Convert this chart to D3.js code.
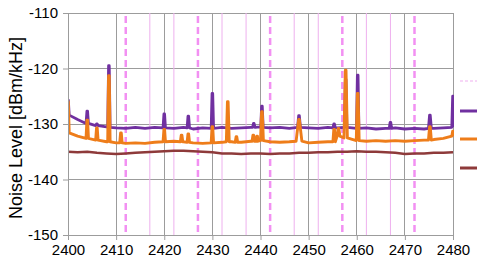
<!DOCTYPE html>
<html><head><meta charset="utf-8">
<script src="https://cdn.jsdelivr.net/npm/d3@7"></script>
<style>
html,body{margin:0;padding:0;background:#fff;overflow:hidden}
svg{display:block;font-family:"Liberation Sans",Arial,sans-serif}
</style></head>
<body>
<script>
// ---- data ----
const xTicks = [2400,2410,2420,2430,2440,2450,2460,2470,2480];
const yTicks = [-150,-140,-130,-120,-110];
const channelCenters = [2412,2427,2442,2457,2472];
const channelEdges = [2417,2422,2432,2437,2447,2452,2462,2467];

const freqs = [2400,2402,2404,2406,2408,2410,2412,2414,2416,2418,2420,2422,2424,2426,2428,2430,2432,2434,2436,2438,2440,2442,2444,2446,2448,2450,2452,2454,2456,2458,2460,2462,2464,2466,2468,2470,2472,2474,2476,2478,2480];

const purpleBase = [-128.4,-129.2,-129.9,-130.3,-130.5,-130.7,-130.8,-130.6,-130.8,-130.6,-130.7,-130.8,-130.6,-130.9,-130.7,-130.8,-130.6,-130.8,-130.7,-130.6,-130.5,-130.7,-130.6,-130.8,-130.6,-130.7,-130.8,-130.6,-130.7,-130.6,-130.8,-130.7,-130.9,-130.8,-130.7,-130.9,-130.8,-130.9,-130.8,-130.7,-130.5];
const orangeBase = [-131.6,-132.2,-132.6,-132.9,-133.2,-133.4,-133.5,-133.4,-133.5,-133.3,-133.2,-133.1,-133.2,-133.4,-133.5,-133.4,-133.3,-133.2,-133.3,-133.1,-133.0,-133.2,-133.3,-133.2,-133.1,-133.4,-133.3,-133.2,-132.0,-132.9,-133.0,-133.1,-133.0,-133.1,-133.0,-133.1,-133.0,-132.9,-132.8,-132.6,-132.2];
const redBase = [-135.0,-135.1,-135.0,-135.2,-135.3,-135.4,-135.3,-135.2,-135.1,-135.0,-134.9,-134.8,-134.8,-134.9,-135.0,-135.1,-135.3,-135.3,-135.4,-135.3,-135.3,-135.4,-135.3,-135.3,-135.2,-135.2,-135.1,-135.1,-135.0,-135.0,-134.9,-135.0,-135.0,-135.1,-135.2,-135.4,-135.3,-135.3,-135.2,-135.2,-135.1];

// spikes: [freq, peak, foot, halfWidth]
const purpleSpikes = [
  [2400.0,-125.7,-128.4,0.25],[2404.0,-127.7,-129.9,0.25],[2406.0,-130.0,-130.3,0.25],
  [2408.5,-119.5,-130.6,0.25],[2420.0,-128.2,-130.7,0.25],[2425.0,-128.6,-130.7,0.25],
  [2430.0,-124.5,-130.8,0.25],[2438.6,-129.9,-130.6,0.25],[2440.3,-126.8,-130.6,0.25],
  [2448.0,-128.5,-130.6,0.3],[2455.3,-130.0,-130.7,0.25],[2457.7,-122.0,-130.6,0.25],
  [2460.2,-121.2,-130.8,0.25],[2467.0,-129.7,-130.8,0.25],[2475.2,-128.4,-130.8,0.3],
  [2480.0,-125.0,-130.6,0.25]
];
const orangeSpikes = [
  [2400.0,-126.0,-131.6,0.25],[2404.0,-129.3,-132.6,0.25],[2406.0,-130.7,-132.9,0.25],
  [2408.5,-121.3,-133.2,0.25],[2411.0,-131.6,-133.4,0.25],[2420.0,-131.0,-133.2,0.25],
  [2423.6,-132.0,-133.2,0.25],[2425.0,-131.8,-133.3,0.25],[2430.0,-130.5,-133.4,0.25],
  [2433.2,-126.0,-133.2,0.3],[2435.0,-132.3,-133.3,0.25],[2438.5,-132.0,-133.1,0.25],
  [2439.3,-132.2,-133.1,0.2],[2440.3,-127.8,-133.0,0.3],[2448.0,-129.2,-133.1,0.6],
  [2455.3,-131.0,-133.2,0.25],[2456.2,-130.8,-132.2,0.3],[2457.7,-120.3,-132.5,0.35],
  [2460.2,-124.5,-133.0,0.3],[2475.2,-130.5,-132.9,0.3],[2480.0,-131.3,-132.2,0.25]
];

// ---- chart ----
const W = 477, H = 259;
const x = d3.scaleLinear().domain([2400,2480]).range([68,453]);
const y = d3.scaleLinear().domain([-150,-110]).range([235,13]);

const svg = d3.select("body").append("svg").attr("width",W).attr("height",H);
svg.append("defs").append("clipPath").attr("id","clip")
  .append("rect").attr("x",68).attr("y",0).attr("width",386).attr("height",236);

const gridColor = "#9c9c9c";
// gridlines
svg.append("g").selectAll("line").data(xTicks.slice(1)).join("line")
  .attr("x1",d=>x(d)).attr("x2",d=>x(d)).attr("y1",y(-110)).attr("y2",y(-150))
  .attr("stroke",gridColor).attr("stroke-width",1).attr("shape-rendering","crispEdges");
svg.append("g").selectAll("line").data(yTicks.slice(1)).join("line")
  .attr("x1",x(2400)).attr("x2",x(2480)).attr("y1",d=>y(d)).attr("y2",d=>y(d))
  .attr("stroke",gridColor).attr("stroke-width",1).attr("shape-rendering","crispEdges");

// channel lines
svg.append("g").selectAll("line").data(channelEdges).join("line")
  .attr("x1",d=>x(d)).attr("x2",d=>x(d)).attr("y1",y(-110)).attr("y2",y(-150))
  .attr("stroke","#eeb0ee").attr("stroke-width",1);
svg.append("g").selectAll("line").data(channelCenters).join("line")
  .attr("x1",d=>x(d)).attr("x2",d=>x(d)).attr("y1",y(-110)+3).attr("y2",y(-150))
  .attr("stroke","#f290f2").attr("stroke-width",2.5).attr("stroke-dasharray","7,4");

// traces
function buildPoints(base, spikes){
  let pts = freqs.map((f,i)=>[f,base[i]])
    .filter(p=>!spikes.some(s=>Math.abs(p[0]-s[0])<=s[3]+0.05));
  spikes.forEach(s=>{
    pts.push([s[0]-s[3],s[2]],[s[0]-0.07,s[1]],[s[0]+0.07,s[1]],[s[0]+s[3],s[2]]);
  });
  pts.sort((a,b)=>a[0]-b[0]);
  return pts;
}
const line = d3.line().x(d=>x(d[0])).y(d=>y(d[1]));
const traces = svg.append("g").attr("clip-path","url(#clip)");
traces.append("path").datum(freqs.map((f,i)=>[f,redBase[i]]))
  .attr("d",line).attr("fill","none").attr("stroke","#8e3a3a").attr("stroke-width",2.5);
traces.append("path").datum(buildPoints(purpleBase,purpleSpikes))
  .attr("d",line).attr("fill","none").attr("stroke","#7030a0").attr("stroke-width",2.8).attr("stroke-linejoin","round");
traces.append("path").datum(buildPoints(orangeBase,orangeSpikes))
  .attr("d",line).attr("fill","none").attr("stroke","#ee7d1a").attr("stroke-width",2.9).attr("stroke-linejoin","round");

// axes
const yAxis = svg.append("g").attr("transform","translate(68,0)")
  .call(d3.axisLeft(y).tickValues(yTicks).tickSize(5).tickPadding(5).tickFormat(d=>d));
const xAxis = svg.append("g").attr("transform","translate(0,235)")
  .call(d3.axisBottom(x).tickValues(xTicks).tickSize(5).tickPadding(4).tickFormat(d=>d));
[yAxis,xAxis].forEach(g=>{
  g.select(".domain").attr("stroke",gridColor);
  g.selectAll(".tick line").attr("stroke",gridColor);
  g.selectAll(".tick text").attr("fill","#000").style("font-size","15px")
    .style("font-family","'Liberation Sans',Arial,sans-serif");
});

// y title
svg.append("text").attr("transform","translate(16,128) rotate(-90)")
  .attr("text-anchor","middle").attr("dominant-baseline","central")
  .style("font-size","18px").attr("fill","#000").text("Noise Level [dBm/kHz]");

// legend (cut off at right edge)
const legend = [
  {y:81, color:"#f0b0f0", w:1.2, dash:"3,2"},
  {y:111, color:"#7030a0", w:3, dash:null},
  {y:139, color:"#ee7d1a", w:3, dash:null},
  {y:168, color:"#8e3a3a", w:3, dash:null}
];
svg.append("g").selectAll("line").data(legend).join("line")
  .attr("x1",460).attr("x2",480).attr("y1",d=>d.y).attr("y2",d=>d.y)
  .attr("stroke",d=>d.color).attr("stroke-width",d=>d.w)
  .attr("stroke-dasharray",d=>d.dash);
</script>
</body></html>
